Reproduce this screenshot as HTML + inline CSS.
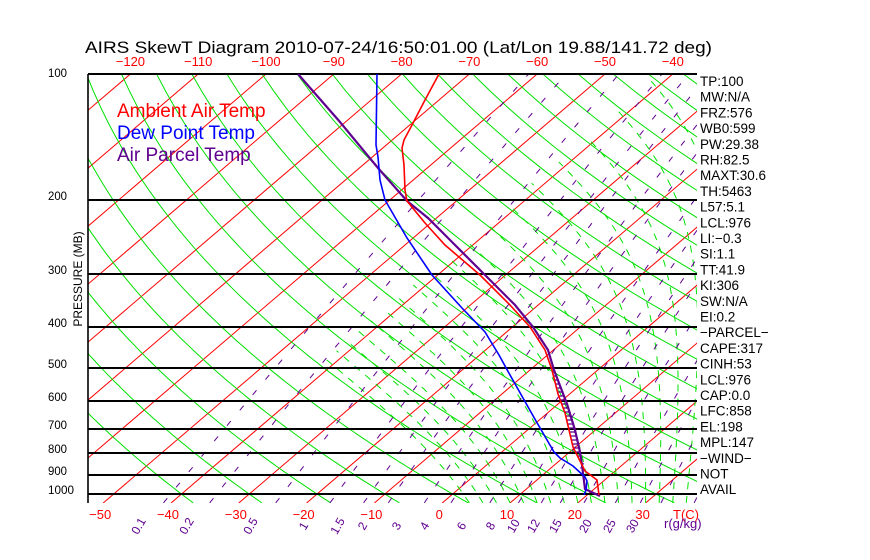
<!DOCTYPE html>
<html><head><meta charset="utf-8"><style>
html,body{margin:0;padding:0;background:#fff;width:870px;height:560px;overflow:hidden}
svg{display:block}
text{font-family:"Liberation Sans",sans-serif}
</style></head><body>
<svg id="s" width="870" height="560" viewBox="0 0 870 560" xmlns="http://www.w3.org/2000/svg">
<defs><clipPath id="c"><rect x="88" y="74" width="609" height="429"/></clipPath></defs>
<g id="grid" clip-path="url(#c)" fill="none"></g>
<g id="hl" stroke="#000" stroke-width="1.6" shape-rendering="crispEdges"></g>
<line x1="88" y1="74" x2="88" y2="503" stroke="#000" stroke-width="1.6"/>
<g id="data" fill="none" stroke-width="1.6" clip-path="url(#c)"></g>
<text x="85" y="53" font-size="17" textLength="627" lengthAdjust="spacingAndGlyphs">AIRS SkewT Diagram 2010-07-24/16:50:01.00 (Lat/Lon 19.88/141.72 deg)</text>
<text x="117" y="117" font-size="19" fill="#f00">Ambient Air Temp</text>
<text x="117" y="139" font-size="19" fill="#00f">Dew Point Temp</text>
<text x="117" y="161" font-size="19" fill="#600090">Air Parcel Temp</text>
<text transform="translate(82,279) rotate(-90)" font-size="12" text-anchor="middle">PRESSURE (MB)</text>
<g id="lab"></g>
</svg>
<script>
const NS="http://www.w3.org/2000/svg";
function el(p,t,a,txt){const e=document.createElementNS(NS,t);for(const k in a)e.setAttribute(k,a[k]);if(txt!==undefined)e.textContent=txt;p.appendChild(e);return e;}
function Y(p){return 74+182.4*Math.log(p/100);}
function X(T,p){return 605+6.78*(T+50)-1.17*(Y(p)-74);}
const g=document.getElementById('grid'),hl=document.getElementById('hl'),d=document.getElementById('data'),lab=document.getElementById('lab');
function path(pts){return 'M'+pts.map(q=>q[0].toFixed(1)+' '+q[1].toFixed(1)).join('L');}
for(let T=-180;T<=60;T+=10){el(g,'line',{x1:X(T,1050),y1:503,x2:X(T,100),y2:74,stroke:'#f00','stroke-width':1});}
for(let th=-40;th<=220;th+=10){const pts=[];for(let p=1050;p>=100;p-=10){const T=(th+273.15)*Math.pow(p/1000,0.2857)-273.15;pts.push([X(T,p),Y(p)]);}el(g,'path',{d:path(pts),stroke:'#00e000','stroke-width':1});}
function es(t){return 6.112*Math.exp(17.67*t/(t+243.5));}
for(let T0=4;T0<=38;T0+=2){let T=T0;const pts=[];for(let p=1050;p>=100;p-=2){pts.push([X(T,p),Y(p)]);const Tk=T+273.15,e=es(T),rs=0.622*e/(p-e);const dTdp=(287*Tk+2.5e6*rs)/(p*(1004+2.5e6*2.5e6*rs*0.622/(287*Tk*Tk)));T-=dTdp*2;if(T<-42)break;}el(g,'path',{d:path(pts),stroke:'#00e000','stroke-width':1,'stroke-dasharray':'7,7'});}
const ws=[0.1,0.2,0.5,1,1.5,2,3,4,6,8,10,12,15,20,25,30,40];
for(const w of ws){const pts=[];for(let p=1050;p>=100;p-=10){const e=w*p/(622+w),l=Math.log(e/6.112),Td=243.5*l/(17.67-l);pts.push([X(Td,p),Y(p)]);}el(g,'path',{d:path(pts),stroke:'#600090','stroke-width':1,'stroke-dasharray':'6,14'});}
[100,200,300,400,500,600,700,800,900,1000].forEach(p=>{const y=Math.round(Y(p));el(hl,'line',{x1:88,y1:y,x2:697,y2:y});el(lab,'text',{x:48,y:y+(p==100?3:0),'font-size':12,textLength:p==1000?26:19,'lengthAdjust':'spacingAndGlyphs'},String(p));});
for(let T=-120;T<=-40;T+=10){el(lab,'text',{x:X(T,100),y:66,'font-size':13,fill:'#f00','text-anchor':'middle'},String(T).replace('-','\u2212'));}
for(let T=-50;T<=30;T+=10){el(lab,'text',{x:X(T,1050)-3,y:519,'font-size':13,fill:'#f00','text-anchor':'middle'},String(T).replace('-','\u2212'));}
el(lab,'text',{x:686,y:519,'font-size':13,fill:'#f00','text-anchor':'middle'},'T(C)');
const ml=[['0.1',142],['0.2',190],['0.5',254],['1',307],['1.5',341],['2',366],['3',400],['4',428],['6',465],['8',494],['10',517],['12',537],['15',559],['20',589],['25',613],['30',636]];
ml.forEach(m=>{el(lab,'text',{transform:`translate(${m[1]},528) rotate(-60)`,'font-size':12,fill:'#600090','text-anchor':'middle'},m[0]);});
el(lab,'text',{x:664,y:528,'font-size':13,fill:'#600090'},'r(g/kg)');
const rl=['TP:100','MW:N/A','FRZ:576','WB0:599','PW:29.38','RH:82.5','MAXT:30.6','TH:5463','L57:5.1','LCL:976','LI:\u22120.3','SI:1.1','TT:41.9','KI:306','SW:N/A','EI:0.2','\u2212PARCEL\u2212','CAPE:317','CINH:53','LCL:976','CAP:0.0','LFC:858','EL:198','MPL:147','\u2212WIND\u2212',' NOT',' AVAIL'];
rl.forEach((t,i)=>{el(lab,'text',{x:700,y:86+i*15.7,'font-size':13.5},t);});
const red=[[439,74],[425,100],[412,125],[404,140],[402,148],[404,165],[405,190],[407,201],[425,223],[445,245],[480,275],[510,305],[530,327],[545,350],[552,370],[558,394],[565,413],[573,447],[582,465],[585,471],[597,480],[599,495]];
const par=[[298,74],[340,122],[378,168],[407,201],[428,218],[452,242],[485,275],[515,305],[533,327],[548,350],[554,370],[567,404],[575,430],[580,452],[582,465],[585,489],[600,496]];
const blue=[[377,74],[376,145],[378,157],[380,180],[385,200],[407,238],[432,275],[462,308],[485,332],[499,355],[510,375],[536,421],[554,452],[560,458],[573,466],[585,477],[587,481],[586,490],[584,495]];
function interp(arr,y){for(let i=0;i<arr.length-1;i++){const a=arr[i],b=arr[i+1];if(y>=a[1]&&y<=b[1]){const t=(y-a[1])/((b[1]-a[1])||1);return a[0]+t*(b[0]-a[0]);}}return null;}
for(let y=372;y<=468;y+=4){const a=interp(red,y),b=interp(par,y);if(a!==null&&b!==null&&b>a)el(d,'line',{x1:a,y1:y,x2:b+1,y2:y,stroke:'#600090','stroke-width':1.3});}
el(d,'path',{d:path(par),stroke:'#600090','stroke-width':2.2});
el(d,'path',{d:path(red),stroke:'#f00'});
el(d,'path',{d:path(blue),stroke:'#00f'});
</script>
</body></html>
